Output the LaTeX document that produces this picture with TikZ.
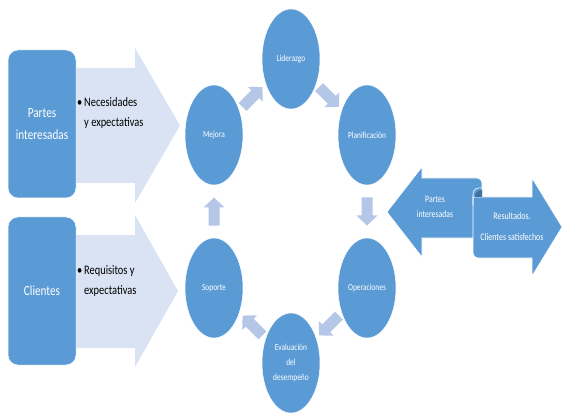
\documentclass[tikz,border=0pt]{standalone}
\usepackage{fontspec}
\setmainfont{Carlito}[FakeStretch=0.8]
\usetikzlibrary{shapes.geometric,calc}
\definecolor{cblue}{HTML}{5B9BD5}
\definecolor{clight}{HTML}{DAE3F3}
\definecolor{csmall}{HTML}{B4C7E7}
\definecolor{cdark}{HTML}{41719C}
\newcommand{\flowarrowshape}[2]{%
  \fill[csmall,shift={(#1)},rotate=#2] (-14,-5.5) -- (4,-5.5) -- (4,-10.5) -- (14,0) -- (4,10.5) -- (4,5.5) -- (-14,5.5) -- cycle;}
\begin{document}
\begin{tikzpicture}[x=1pt,y=1pt,
  stage/.style={ellipse,fill=cblue,draw=white,line width=0.5pt,minimum width=58pt,minimum height=100pt,inner sep=0pt,text=white,font=\fontsize{9.3}{15}\selectfont,align=center},
  sidebox/.style={rounded corners=10pt,fill=cblue,draw=white,line width=0.5pt,minimum width=68pt,minimum height=148pt,text=white,font=\fontsize{14}{22}\selectfont,align=center},
  bigarrow/.style={fill=clight},
  bullettext/.style={anchor=west,inner sep=0pt,align=left,font=\fontsize{13}{20}\selectfont,text=black},
  ribbon/.style={fill=cblue,draw=white,line width=0.6pt},
  ribbontext/.style={text=white,align=center,inner sep=0pt}
]
\useasboundingbox (0,0) rectangle (562,-414);
\fill[white] (0,0) rectangle (562,-414);

% big light arrows
\fill[bigarrow] (70,-68) -- (135,-68) -- (135,-48) -- (180,-125.5) -- (135,-203) -- (135,-183) -- (70,-183) -- cycle;
\fill[bigarrow] (70,-235) -- (135,-235) -- (135,-215) -- (178,-291) -- (135,-367) -- (135,-348) -- (70,-348) -- cycle;

% side boxes
\node[sidebox] (partes) at (42,-124) {Partes\\interesadas};
\node[sidebox] (clientes) at (42,-291) {Clientes};

\node[bullettext] (nec) at (77,-113) {\makebox[7pt][l]{•}Necesidades\\\hspace*{7pt}y expectativas};
\node[bullettext] (req) at (77,-281) {\makebox[7pt][l]{•}Requisitos y\\\hspace*{7pt}expectativas};

% stages
\node[stage] (mejora) at (214,-135) {Mejora};
\node[stage] (liderazgo) at (291,-59) {Liderazgo};
\node[stage] (planif) at (367,-135) {Planificación};
\node[stage] (operac) at (367,-288) {Operaciones};
\node[stage] (evalua) at (291,-363) {Evaluación\\del\\desempeño};
\node[stage] (soporte) at (214,-288) {Soporte};

% flow arrows between stages
\coordinate (a1) at ($(mejora)!0.5!(liderazgo)$);
\coordinate (a2) at ($(liderazgo)!0.5!(planif)$);
\coordinate (a3) at ($(planif)!0.5!(operac)$);
\coordinate (a4) at ($(operac)!0.5!(evalua)$);
\coordinate (a5) at ($(evalua)!0.5!(soporte)$);
\coordinate (a6) at ($(soporte)!0.5!(mejora)$);
\flowarrowshape{a1}{45}
\flowarrowshape{a2}{-45}
\flowarrowshape{a3}{-90}
\flowarrowshape{a4}{-135}
\flowarrowshape{a5}{135}
\flowarrowshape{a6}{90}

% right ribbon arrows
\path[ribbon] (387,-212) -- (422,-167) -- (422,-178) [rounded corners=5pt] -- (482,-178) [sharp corners] -- (482,-238) -- (422,-238) -- (422,-257) -- cycle;
\path[ribbon] (473,-197) -- (532,-197) -- (532,-178) -- (562,-227) -- (532,-276) -- (532,-258) [rounded corners=5pt] -- (473,-258) [sharp corners] -- cycle;
\fill[cdark] (475,-197) .. controls (475,-192) and (478,-190) .. (482,-190) -- (482,-197) -- cycle;
\draw[white,line width=0.6pt] (473,-205) -- (473,-194) .. controls (473,-189) and (478,-187) .. (482,-188);

\node[ribbontext,font=\fontsize{9.7}{15}\selectfont] (pi) at (435,-207) {Partes\\interesadas};
\node[ribbontext,font=\fontsize{10}{21}\selectfont] (res) at (512,-227) {Resultados.\\Clientes satisfechos};
\end{tikzpicture}
\end{document}
